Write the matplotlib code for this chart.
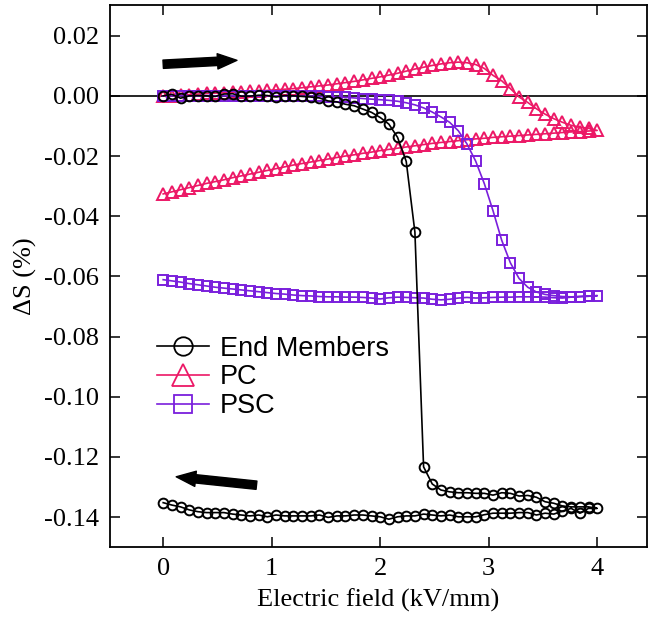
import matplotlib
matplotlib.use("Agg")
import matplotlib.pyplot as plt
from matplotlib.ticker import FixedLocator

plt.rcParams['font.family'] = ['Liberation Serif', 'DejaVu Serif']
plt.rcParams['axes.unicode_minus'] = False

# electric field steps (kV/mm), rising branch 0 -> 4
field_up = [0.00, 0.08, 0.16, 0.24, 0.32, 0.40, 0.48, 0.56, 0.64, 0.72, 0.80, 0.88, 0.96,
            1.04, 1.12, 1.20, 1.28, 1.36, 1.44, 1.52, 1.60, 1.68, 1.76, 1.84, 1.92,
            2.00, 2.08, 2.16, 2.24, 2.32, 2.40, 2.48, 2.56, 2.64, 2.72, 2.80, 2.88, 2.96,
            3.04, 3.12, 3.20, 3.28, 3.36, 3.44, 3.52, 3.60, 3.68, 3.76, 3.84, 3.92, 4.00]
# falling branch is given in ascending field order (0 ... 3.92)
field_down = field_up[:-1]

end_up = [0.0000, 0.0005, -0.0008, 0.0000, 0.0001, 0.0000, -0.0002, 0.0006, 0.0007, -0.0001,
          -0.0001, 0.0002, 0.0001, -0.0004, 0.0001, 0.0000, -0.0002, -0.0004,
          -0.0007, -0.0017, -0.0020, -0.0028, -0.0033, -0.0044, -0.0055, -0.0072, -0.0094,
          -0.0138, -0.0218, -0.0453, -0.1233,
          -0.1290, -0.1310, -0.1316, -0.1319, -0.1319, -0.1321, -0.1321, -0.1327, -0.1319, -0.1321,
          -0.1330, -0.1328, -0.1334, -0.1349, -0.1354, -0.1363, -0.1366, -0.1366, -0.1366, -0.1371]
end_down = [-0.1352, -0.1360, -0.1366, -0.1376, -0.1382, -0.1385, -0.1385, -0.1385, -0.1390, -0.1393,
            -0.1396, -0.1393, -0.1399, -0.1393, -0.1396, -0.1396, -0.1396, -0.1396, -0.1393, -0.1401,
            -0.1396, -0.1396, -0.1393, -0.1393, -0.1396, -0.1399, -0.1407, -0.1399, -0.1396, -0.1396,
            -0.1390, -0.1393, -0.1396, -0.1393, -0.1399, -0.1399, -0.1399, -0.1392, -0.1387, -0.1387,
            -0.1387, -0.1385, -0.1385, -0.1393, -0.1387, -0.1390, -0.1380, -0.1371, -0.1387, -0.1371]

pc_up = [0.0000, 0.0001, 0.0002, 0.0004, 0.0006, 0.0008, 0.0009, 0.0010, 0.0012, 0.0013, 0.0015, 0.0016, 0.0018,
         0.0020, 0.0022, 0.0024, 0.0027, 0.0030, 0.0033, 0.0036, 0.0040, 0.0044, 0.0048, 0.0053, 0.0058,
         0.0063, 0.0069, 0.0075, 0.0082, 0.0089, 0.0095, 0.0101, 0.0106, 0.0110, 0.0112, 0.0110, 0.0104, 0.0091,
         0.0068, 0.0050, 0.0024, -0.0004, -0.0022, -0.0043, -0.0061, -0.0076, -0.0088, -0.0098, -0.0104, -0.0108, -0.0115]
pc_down = [-0.0326, -0.0319, -0.0312, -0.0305, -0.0298, -0.0291, -0.0285, -0.0279, -0.0272, -0.0266,
           -0.0260, -0.0254, -0.0248, -0.0242, -0.0236, -0.0230, -0.0225, -0.0220, -0.0215, -0.0210,
           -0.0205, -0.0200, -0.0196, -0.0191, -0.0187, -0.0182, -0.0178, -0.0174, -0.0170, -0.0166,
           -0.0162, -0.0158, -0.0155, -0.0152, -0.0149, -0.0146, -0.0143, -0.0141, -0.0138, -0.0136,
           -0.0134, -0.0132, -0.0130, -0.0128, -0.0126, -0.0124, -0.0122, -0.0120, -0.0119, -0.0117]

psc_up = [0.0000, 0.0000, 0.0001, 0.0000, 0.0000, 0.0001, 0.0000, 0.0000, 0.0000, 0.0000, 0.0000, -0.0001, 0.0000,
          0.0000, -0.0001, 0.0000, -0.0001, -0.0001, -0.0002, -0.0003, -0.0004, -0.0005, -0.0007, -0.0009, -0.0011,
          -0.0013, -0.0015, -0.0018, -0.0023, -0.0030, -0.0040, -0.0054, -0.0070, -0.0088, -0.0116, -0.0160, -0.0217, -0.0292,
          -0.0382, -0.0480, -0.0555, -0.0607, -0.0636, -0.0652, -0.0660, -0.0664, -0.0667, -0.0668, -0.0667, -0.0666, -0.0664]
psc_down = [-0.0611, -0.0615, -0.0619, -0.0624, -0.0628, -0.0632, -0.0636, -0.0639, -0.0642, -0.0645,
            -0.0648, -0.0651, -0.0654, -0.0657, -0.0659, -0.0662, -0.0664, -0.0665, -0.0667, -0.0668,
            -0.0668, -0.0669, -0.0669, -0.0670, -0.0672, -0.0675, -0.0671, -0.0669, -0.0670, -0.0671,
            -0.0672, -0.0676, -0.0678, -0.0676, -0.0672, -0.0670, -0.0672, -0.0671, -0.0670, -0.0669,
            -0.0669, -0.0668, -0.0668, -0.0668, -0.0669, -0.0671, -0.0672, -0.0669, -0.0667, -0.0666]

labels = ['End Members', 'PC', 'PSC']
colors = ['black', '#EC1866', '#7A1FDC']
ytick_vals = [0.02, 0.00, -0.02, -0.04, -0.06, -0.08, -0.10, -0.12, -0.14]
xtick_vals = [0, 1, 2, 3, 4]

# full loop: up then back down
x_loop = field_up + field_down[::-1]
series = [end_up + end_down[::-1], pc_up + pc_down[::-1], psc_up + psc_down[::-1]]
markers = ['o', '^', 's']
msizes = [7.0, 8.5, 6.8]

fig = plt.figure(figsize=(6.51, 6.19), dpi=100)
ax = fig.add_axes([0.169, 0.116, 0.825, 0.876])

ax.axhline(0, color='black', lw=1.2, zorder=1)

# draw PC, PSC first, End Members on top
handles = {}
for i in [1, 2, 0]:
    h, = ax.plot(x_loop, series[i], color=colors[i], marker=markers[i], ms=msizes[i],
                 mfc='none', mec=colors[i], mew=1.4, lw=1.2, label=labels[i], zorder=3 + (i == 0))
    handles[i] = h

# direction arrows
arr = dict(arrowstyle='simple,head_length=0.7,head_width=0.55,tail_width=0.3',
           color='black', mutation_scale=20, shrinkA=0, shrinkB=0)
ax.annotate('', xy=(0.68, 0.0118), xytext=(0.0, 0.0105), arrowprops=arr)
ax.annotate('', xy=(0.12, -0.1266), xytext=(0.86, -0.1294), arrowprops=arr)

ax.set_xlim(-0.49, 4.46)
ax.set_ylim(-0.150, 0.0302)
ax.xaxis.set_major_locator(FixedLocator(xtick_vals))
ax.yaxis.set_major_locator(FixedLocator(ytick_vals))
ax.set_xticklabels([str(v) for v in xtick_vals])
ax.set_yticklabels(['%.2f' % v for v in ytick_vals])
ax.tick_params(direction='in', top=True, right=True, length=7, width=1.1, labelsize=19, pad=8)
for s in ax.spines.values():
    s.set_linewidth(1.3)

ax.set_xlabel('Electric field (kV/mm)', fontsize=19, labelpad=6)
ax.set_ylabel('ΔS (%)', fontsize=19, labelpad=5)

leg = ax.legend([handles[0], handles[1], handles[2]], labels, loc='upper left',
                bbox_to_anchor=(0.088, 0.39), frameon=False, borderpad=0, borderaxespad=0,
                handlelength=1.9, handletextpad=0.4, labelspacing=0.1, markerscale=1.9,
                prop={'family': 'Liberation Sans', 'size': 19.5})
for lh in leg.get_lines():
    lh.set_markeredgewidth(1.3)

fig.savefig('out.png', dpi=100)
